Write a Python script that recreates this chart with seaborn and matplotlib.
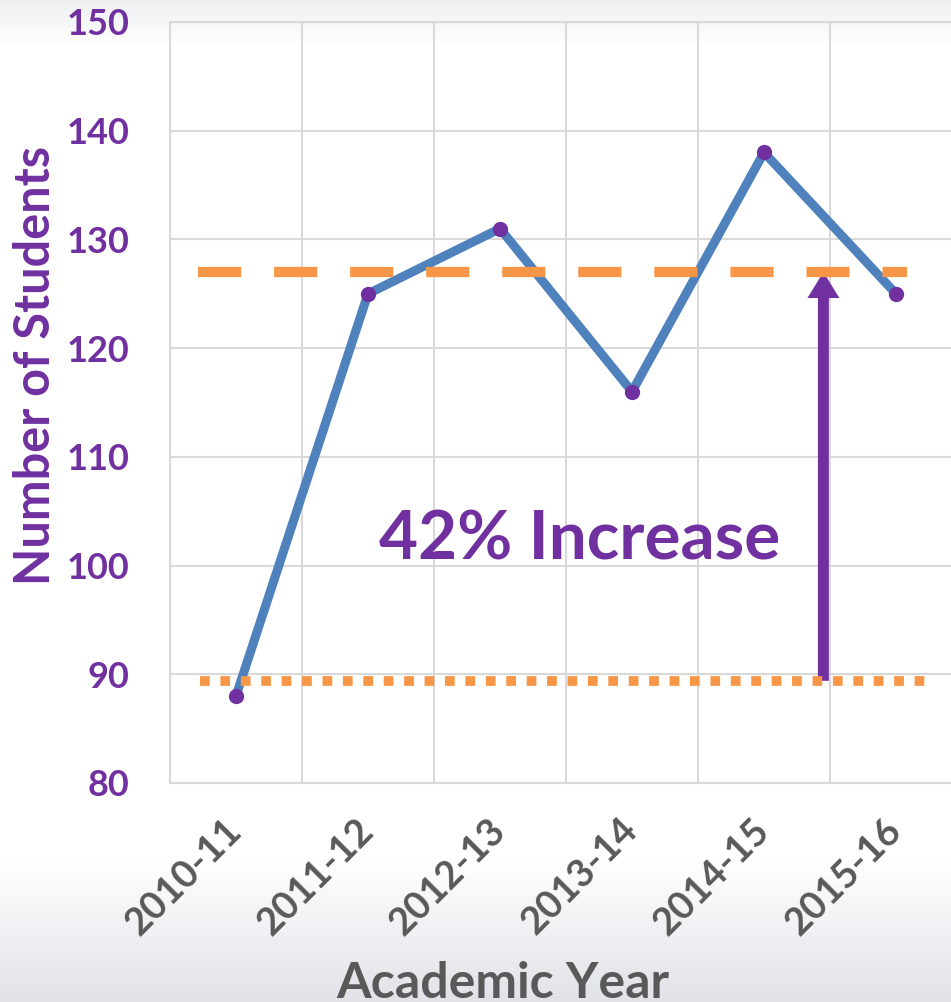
import numpy as np
import pandas as pd
import matplotlib
matplotlib.use("Agg")
import matplotlib.pyplot as plt
import seaborn as sns

# Данные
years = ['2010-11', '2011-12', '2012-13', '2013-14', '2014-15', '2015-16']
students = [88, 125, 131, 116, 138, 125]
baseline = 89.4      # стартовый уровень (пунктир)
recent_avg = 127     # среднее за 2011-12 .. 2015-16 (штрих)
y_ticks = [80, 90, 100, 110, 120, 130, 140, 150]
note = '42% Increase'

purple = '#7030a0'
blue = '#4f81bd'
orange = '#f79646'
gray_text = '#595959'
grid_col = '#d9d9d9'

sns.set_theme(style='white')
plt.rcParams['font.family'] = ['Lato', 'DejaVu Sans']
plt.rcParams['font.weight'] = 'bold'

W, H = 951, 1002
fig = plt.figure(figsize=(W / 100, H / 100), dpi=100)

# Фон с лёгким градиентом сверху и снизу
rows = np.arange(H)
stops_y = [0, 45, 860, H - 1]
r = np.interp(rows, stops_y, [0.937, 1.0, 1.0, 0.882])
g = np.interp(rows, stops_y, [0.941, 1.0, 1.0, 0.890])
b = np.interp(rows, stops_y, [0.949, 1.0, 1.0, 0.910])
grad = np.stack([r, g, b], axis=1)[:, None, :]
bg = fig.add_axes([0, 0, 1, 1], zorder=-1)
bg.imshow(grad, aspect='auto', extent=[0, 1, 0, 1])
bg.axis('off')

ax = fig.add_axes([170 / W, 1 - 783 / H, 792 / W, 761 / H])
ax.patch.set_alpha(0)

df = pd.DataFrame({'year': years, 'students': students})
sns.lineplot(data=df, x='year', y='students', ax=ax, color=blue, lw=6.5,
             marker='o', markersize=11, markerfacecolor=purple,
             markeredgewidth=0, zorder=2)

# Линии среднего и стартового уровня
ax.hlines(recent_avg, -0.29, 5.08, color=orange, lw=7.4,
          linestyles=(0, (4.2, 3.2)), zorder=4)
ax.hlines(baseline, -0.27, 5.24, color=orange, lw=7.0,
          linestyles=(0, (1.0, 1.1)), zorder=4)

# Стрелка роста
arrow_x = 4.45
ax.annotate('', xy=(arrow_x, recent_avg), xytext=(arrow_x, baseline),
            arrowprops=dict(arrowstyle='simple,head_length=1.87,head_width=2.3,tail_width=0.79',
                            mutation_scale=10, color=purple, lw=0,
                            shrinkA=0, shrinkB=0), zorder=3)

ax.text(2.60, 100.6, note, ha='center', va='baseline', fontsize=48.5,
        color=purple, fontweight='bold', zorder=5)

ax.set_xlim(-0.5, 5.5)
ax.set_ylim(80, 150)
ax.set_yticks(y_ticks)
ax.set_xticks(range(len(years)))
ax.set_xticklabels(years, rotation=45, ha='right', va='center',
                   rotation_mode='anchor')
ax.set_xticks(np.arange(-0.5, len(years)), minor=True)

ax.grid(False)
ax.grid(which='minor', axis='x', color=grid_col, lw=1.5)
ax.grid(which='major', axis='y', color=grid_col, lw=1.5)
ax.set_axisbelow(True)
for s in ax.spines.values():
    s.set_color(grid_col)
    s.set_linewidth(1.5)

ax.tick_params(which='both', length=0)
ax.tick_params(axis='y', labelcolor=purple, labelsize=26, pad=29)
ax.tick_params(axis='x', labelcolor=gray_text, labelsize=27.5, pad=30)
for lab in ax.get_xticklabels() + ax.get_yticklabels():
    lab.set_fontweight('bold')

ax.set_ylabel('Number of Students', color=purple, fontsize=35, fontweight='bold')
ax.yaxis.label.set_va('baseline')
ax.yaxis.set_label_coords(-0.1515, 0.549)
ax.set_xlabel('Academic Year', color=gray_text, fontsize=36, fontweight='bold')
ax.xaxis.label.set_va('baseline')
ax.xaxis.set_label_coords(0.42, -0.283)

fig.savefig('out.png', dpi=100)
